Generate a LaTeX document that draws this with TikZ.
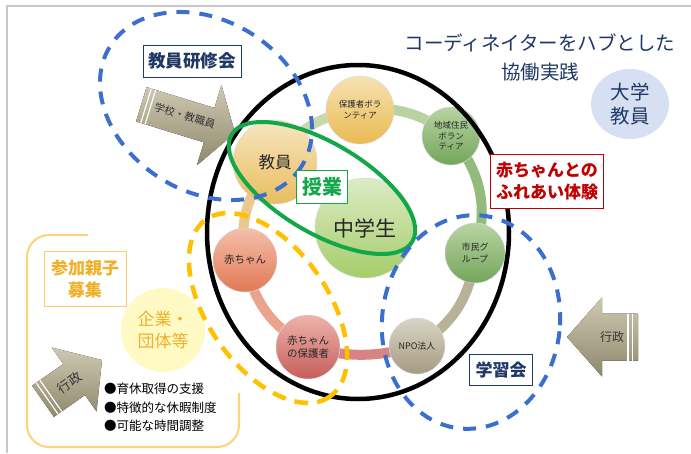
\documentclass[tikz,border=0pt]{standalone}
\usepackage{fontspec}
\setmainfont{Noto Sans CJK JP}
\usetikzlibrary{shapes.geometric,backgrounds}
\definecolor{navy}{HTML}{1F3864}
\definecolor{redtxt}{HTML}{C00000}
\definecolor{goldtxt}{HTML}{F0B02A}
\definecolor{goldline}{HTML}{FFCB66}
\definecolor{boxorange}{HTML}{FFD27A}
\definecolor{hubgreen}{HTML}{12A84A}
\definecolor{dashblue}{HTML}{3A6FD0}
\definecolor{dashyellow}{HTML}{FFC000}
\definecolor{framegray}{HTML}{C8C8C8}
\definecolor{arrlight}{HTML}{CFC9B4}
\definecolor{arrdark}{HTML}{8E886C}
\definecolor{ringA}{HTML}{C5D9AD}
\definecolor{ringB}{HTML}{B9D3A0}
\definecolor{ringC}{HTML}{92BB7C}
\definecolor{ringD}{HTML}{B8B296}
\definecolor{ringE}{HTML}{D88484}
\definecolor{ringF}{HTML}{EAA48E}
\definecolor{ringG}{HTML}{EAC98C}
\definecolor{kyT}{HTML}{F7E6C0}
\definecolor{kyB}{HTML}{E8BD5E}
\definecolor{hvT}{HTML}{F6E2B4}
\definecolor{hvB}{HTML}{E9BA50}
\definecolor{grT}{HTML}{B8D4A2}
\definecolor{grB}{HTML}{74A55C}
\definecolor{npT}{HTML}{DAD4C6}
\definecolor{npB}{HTML}{A39B82}
\definecolor{ahT}{HTML}{EDB3AC}
\definecolor{ahB}{HTML}{C65D5A}
\definecolor{akT}{HTML}{F4BFAA}
\definecolor{akB}{HTML}{E27955}
\definecolor{chT}{HTML}{DCEBC6}
\definecolor{chB}{HTML}{A5CD68}
\definecolor{univ}{HTML}{D6E0F2}
\definecolor{kigyofill}{HTML}{FFF9C4}
\newcommand\myfs[2]{\fontsize{#1}{#2}\selectfont}
\begin{document}
\begin{tikzpicture}[x=1pt,y=-1pt,
  ball/.style={circle, draw=black!15, line width=0.5pt, inner sep=0pt, align=center, text=black!85},
  ringseg/.style={line width=10pt},
  tag/.style={draw, fill=white, line width=1pt, align=center, inner sep=0pt, font=\bfseries},
  bluedash/.style={draw=dashblue, line width=4pt, dash pattern=on 13pt off 10pt},
  ydash/.style={draw=dashyellow, line width=4.5pt, dash pattern=on 14pt off 9pt},
  arrowbody/.style={top color=arrlight, bottom color=arrdark, draw=none},
  stripe/.style={draw=white, line width=1.2pt},
  arrtext/.style={text=black!80, inner sep=0pt},
]
\useasboundingbox (0,0) rectangle (691,453);
\draw[framegray, line width=1.5pt] (7,453) -- (7,6) -- (691,6);

% ring nodes
\node[ball, minimum size=84, top color=kyT, bottom color=kyB, font=\myfs{16.5}{20}] (kyoin) at (275,162) {教員};
\node[ball, minimum size=68, top color=hvT, bottom color=hvB, font=\myfs{8.5}{10.5}] (hogov) at (360,110) {保護者ボラ\\ンティア};
\node[ball, minimum size=58, top color=grT, bottom color=grB, font=\myfs{8.5}{10.5}] (chiiki) at (451,136) {地域住民\\ボラン\\ティア};
\node[ball, minimum size=60, top color=grT, bottom color=grB, font=\myfs{9}{11.5}] (shimin) at (475,253) {市民グ\\ループ};
\node[ball, minimum size=56, top color=npT, bottom color=npB, font=\myfs{9}{11}] (npo) at (417,346) {NPO法人};
\node[ball, minimum size=64, top color=ahT, bottom color=ahB, font=\myfs{10.5}{13}] (akahogo) at (308,347) {赤ちゃん\\の保護者};
\node[ball, minimum size=64, top color=akT, bottom color=akB, font=\myfs{10.5}{13}] (aka) at (245,260) {赤ちゃん};
\node[ball, minimum size=100, top color=chT, bottom color=chB, font=\myfs{21}{25}] (chu) at (365,228) {中学生};

\begin{scope}[on background layer]
  \draw[ringseg, draw=ringA] (kyoin.center) to[bend left=25] (hogov.center);
  \draw[ringseg, draw=ringB] (hogov.center) to[bend left=22] (chiiki.center);
  \draw[ringseg, draw=ringC] (chiiki.center) to[bend left=29] (shimin.center);
  \draw[ringseg, draw=ringD] (shimin.center) to[bend left=27] (npo.center);
  \draw[ringseg, draw=ringE] (npo.center) to[bend left=15] (akahogo.center);
  \draw[ringseg, draw=ringF] (akahogo.center) to[bend left=25] (aka.center);
  \draw[ringseg, draw=ringG] (aka.center) to[bend left=26] (kyoin.center);
\end{scope}

% other circles
\node[circle, fill=kigyofill, minimum size=84, inner sep=0pt, align=center, text=goldtxt, font=\myfs{17}{22}] (kigyo) at (163,330) {企業・\\団体等};
\node[ellipse, fill=univ, minimum width=78, minimum height=70, inner sep=0pt, align=center, text=navy, font=\myfs{19.5}{24}] (daigaku) at (630,104) {大学\\教員};

% arrows
\begin{scope}[shift={(235,133)}, rotate=-17]
  \fill[arrowbody] (0,0) -- (-27,-42) -- (-27,-18) -- (-98,-18) -- (-98,18) -- (-27,18) -- (-27,42) -- cycle;
  \draw[stripe] (-93,-18) -- (-93,18);
  \draw[stripe] (-88.5,-18) -- (-88.5,18);
  \node[arrtext, rotate=-17, font=\myfs{10.5}{12}] (schoolarr) at (-53,-2) {学校・教職員};
\end{scope}
\begin{scope}[shift={(102,360)}, rotate=35]
  \fill[arrowbody] (0,0) -- (-34,-39) -- (-34,-19) -- (-72,-19) -- (-72,19) -- (-34,19) -- (-34,39) -- cycle;
  \draw[stripe] (-67,-19) -- (-67,19);
  \draw[stripe] (-62.5,-19) -- (-62.5,19);
  \node[arrtext, rotate=35, font=\myfs{13}{15}] (gyosei1) at (-40,0) {行政};
\end{scope}
\begin{scope}[shift={(567,337)}, rotate=180]
  \fill[arrowbody] (0,0) -- (-35,-39.5) -- (-35,-23.5) -- (-71,-23.5) -- (-71,23.5) -- (-35,23.5) -- (-35,39.5) -- cycle;
  \draw[stripe] (-61,-23.5) -- (-61,23.5);
  \draw[stripe] (-65.5,-23.5) -- (-65.5,23.5);
\end{scope}
\node[arrtext, font=\myfs{12}{14}] (gyosei2) at (612,337) {行政};

% open rounded frame
\draw[draw=boxorange, line width=2pt, rounded corners=22] (88,235) -- (27,235) -- (27,447) -- (239,447) -- (239,393);

% ellipses
\draw[line width=4.5pt] (358,232) ellipse [x radius=151, y radius=167];
\draw[draw=hubgreen, line width=4pt, rotate around={-30.6:(322,188)}] (322,188) ellipse [x radius=105, y radius=45];
\draw[bluedash, rotate around={-32:(206,106)}] (206,106) ellipse [x radius=113, y radius=85.5];
\draw[bluedash, rotate around={-6:(471,322)}] (471,322) ellipse [x radius=89, y radius=107];
\draw[ydash, rotate around={-55:(268,308)}] (268,308) ellipse [x radius=108, y radius=60];

% labels
\node[tag, draw=navy, text=navy, minimum width=98, minimum height=32, font=\bfseries\myfs{17.5}{21}] (kenshu) at (192,61) {教員研修会};
\node[tag, draw=hubgreen, text=hubgreen, line width=1.3pt, minimum width=51, minimum height=33, font=\bfseries\myfs{20}{24}] (jugyo) at (322,187) {授業};
\node[tag, draw=redtxt, text=redtxt, minimum width=113, minimum height=54, font=\bfseries\myfs{17}{22}] (fureai) at (547,181) {赤ちゃんとの\\ふれあい体験};
\node[tag, draw=navy, text=navy, minimum width=63, minimum height=31, font=\bfseries\myfs{17}{21}] (gakushu) at (501,370) {学習会};
\node[tag, draw=goldline, text=goldtxt, minimum width=82, minimum height=55, font=\bfseries\myfs{17}{22}] (sanka) at (85,279) {参加親子\\募集};

\node[text=navy, align=center, inner sep=0pt, font=\myfs{19.5}{29}] (title) at (540,57) {コーディネイターをハブとした\\協働実践};
\node[anchor=north west, align=left, inner sep=0pt, font=\myfs{12.5}{18.5}] (bullets) at (104,383) {●育休取得の支援\\●特徴的な休暇制度\\●可能な時間調整};
\end{tikzpicture}
\end{document}
